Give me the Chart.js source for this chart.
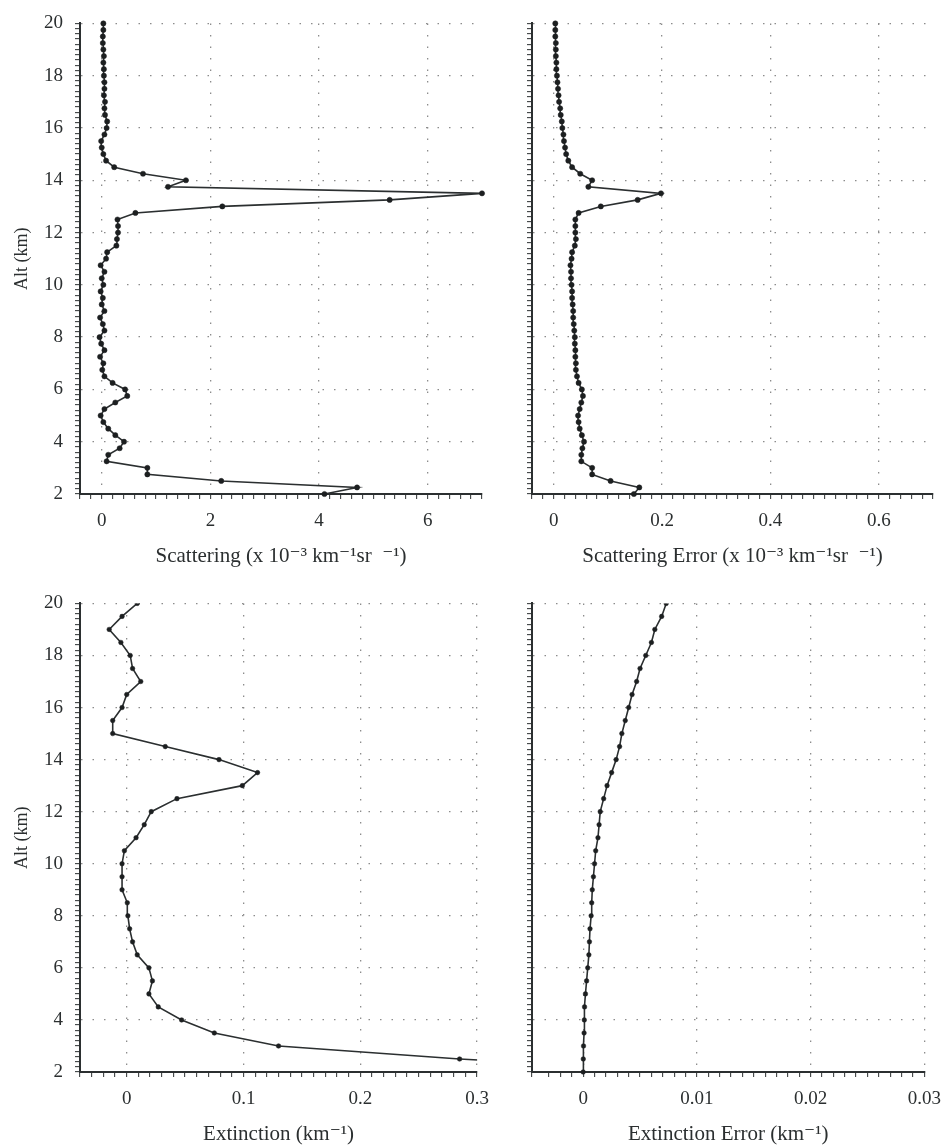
<!DOCTYPE html>
<html><head><meta charset="utf-8">
<script src="https://cdn.jsdelivr.net/npm/chart.js@4.4.1/dist/chart.umd.min.js"></script>
<style>
html,body{margin:0;padding:0;background:#fff;}
#wrap{position:relative;width:952px;height:1147px;overflow:hidden;background:#fff;}
canvas{position:absolute;}
</style></head><body>
<div id="wrap">
<canvas id="c1" width="500" height="580" style="left:0px;top:0px"></canvas>
<canvas id="c2" width="452" height="580" style="left:500px;top:0px"></canvas>
<canvas id="c3" width="500" height="567" style="left:0px;top:580px"></canvas>
<canvas id="c4" width="452" height="567" style="left:500px;top:580px"></canvas>
</div>
<script>
// ---- DATA ----
const altTop = [
  2, 2.25, 2.5, 2.75, 3, 3.25, 3.5, 3.75, 4, 4.25, 4.5, 4.75,
  5, 5.25, 5.5, 5.75, 6, 6.25, 6.5, 6.75, 7, 7.25, 7.5, 7.75,
  8, 8.25, 8.5, 8.75, 9, 9.25, 9.5, 9.75, 10, 10.25, 10.5, 10.75,
  11, 11.25, 11.5, 11.75, 12, 12.25, 12.5, 12.75, 13, 13.25, 13.5, 13.75,
  14, 14.25, 14.5, 14.75, 15, 15.25, 15.5, 15.75, 16, 16.25, 16.5, 16.75,
  17, 17.25, 17.5, 17.75, 18, 18.25, 18.5, 18.75, 19, 19.25, 19.5, 19.75, 20
];
const scattering = [
  4.1, 4.7, 2.2, 0.84,
  0.84, 0.09, 0.12, 0.33,
  0.41, 0.25, 0.12, 0.03,
  -0.02, 0.05, 0.25, 0.47,
  0.43, 0.2, 0.05, 0.01,
  0.03, -0.03, 0.05, -0.01,
  -0.04, 0.05, 0.02, -0.03,
  0.05, 0.0, 0.02, -0.02,
  0.03, 0.0, 0.05, -0.02,
  0.08, 0.1, 0.27, 0.28,
  0.3, 0.3, 0.29, 0.62,
  2.22, 5.3, 7.0, 1.22,
  1.55, 0.76, 0.23, 0.08,
  0.03, 0.0, -0.01, 0.05,
  0.09, 0.1, 0.06, 0.05,
  0.06, 0.04, 0.05, 0.05,
  0.04, 0.04, 0.03, 0.04,
  0.03, 0.02, 0.02, 0.03,
  0.03
];
const scatteringError = [
  0.148, 0.158, 0.105, 0.071,
  0.071, 0.051, 0.051, 0.053,
  0.056, 0.052, 0.048, 0.046,
  0.045, 0.048, 0.051, 0.054,
  0.052, 0.046, 0.043, 0.041,
  0.041, 0.040, 0.040, 0.039,
  0.039, 0.038, 0.037, 0.036,
  0.036, 0.035, 0.034, 0.034,
  0.033, 0.032, 0.032, 0.031,
  0.033, 0.034, 0.039, 0.041,
  0.040, 0.040, 0.040, 0.046,
  0.087, 0.155, 0.198, 0.064,
  0.071, 0.049, 0.034, 0.027,
  0.023, 0.021, 0.019, 0.018,
  0.016, 0.015, 0.013, 0.012,
  0.010, 0.009, 0.008, 0.007,
  0.006, 0.005, 0.005, 0.004,
  0.004, 0.004, 0.003, 0.003,
  0.003
];
const altBottom = [
  2, 2.5, 3, 3.5, 4, 4.5, 5, 5.5, 6, 6.5, 7, 7.5, 8, 8.5, 9, 9.5, 10, 10.5,
  11, 11.5, 12, 12.5, 13, 13.5, 14, 14.5, 15, 15.5, 16, 16.5, 17, 17.5, 18, 18.5,
  19, 19.5, 20
];
const extinction = [
  0.48, 0.285, 0.130, 0.075, 0.047, 0.027, 0.019, 0.022, 0.019, 0.009,
  0.005, 0.0025, 0.001, 0.0005, -0.004, -0.004, -0.004, -0.002,
  0.008, 0.015, 0.021, 0.043, 0.099, 0.112, 0.079, 0.033, -0.012, -0.012,
  -0.004, 0.0, 0.012, 0.005, 0.003, -0.005, -0.015, -0.004, 0.009
];
const extinctionError = [
  0.0, 0.00001, 0.00003, 0.00008, 0.0001, 0.00012, 0.0002, 0.0003, 0.0004, 0.0005,
  0.00055, 0.0006, 0.0007, 0.00075, 0.0008, 0.0009, 0.001, 0.0011,
  0.0013, 0.0014, 0.0015, 0.0018, 0.0021, 0.0025, 0.0029, 0.0032, 0.0034, 0.0037,
  0.0040, 0.0043, 0.0047, 0.0050, 0.0055, 0.0060, 0.0063, 0.0069, 0.0073
];
const altTickLabels = [2, 4, 6, 8, 10, 12, 14, 16, 18, 20];
const scatTickLabels = [0, 2, 4, 6];
const scatErrTickLabels = [0, 0.2, 0.4, 0.6];
const extTickLabels = [0, 0.1, 0.2, 0.3];
const extErrTickLabels = [0, 0.01, 0.02, 0.03];

// ---- STYLE / HELPERS ----
const FONT = "'Liberation Serif', 'DejaVu Serif', serif";
const INK = '#2b2f30';
const GRIDC = '#8c8c8c';
Chart.defaults.font.family = FONT;
Chart.defaults.color = INK;

function inList(v, list) {
  return list.some(t => Math.abs(t - v) < 1e-9 * Math.max(1, Math.abs(t)) + 1e-12);
}

function panel(id, cfg) {
  const pts = cfg.ys.map((a, i) => ({x: cfg.xs[i], y: a}));
  const majorX = cfg.xLabels, majorY = altTickLabels;
  new Chart(document.getElementById(id), {
    type: 'line',
    data: { datasets: [{
      data: pts,
      borderColor: INK,
      borderWidth: 1.6,
      pointRadius: cfg.pr,
      pointBackgroundColor: '#1c1f20',
      pointBorderColor: '#1c1f20',
      pointBorderWidth: 0.5,
      tension: 0,
      fill: false,
      clip: cfg.clip
    }]},
    options: {
      responsive: false,
      animation: false,
      devicePixelRatio: 1,
      layout: { padding: { top: cfg.padTop, right: cfg.padRight, left: 0, bottom: 0 } },
      plugins: { legend: { display: false }, tooltip: { enabled: false } },
      scales: {
        x: {
          type: 'linear',
          min: cfg.xMin, max: cfg.xMax,
          afterFit: s => { s.height = cfg.xH; },
          ticks: {
            stepSize: cfg.xMinor, autoSkip: false, maxRotation: 0, minRotation: 0,
            padding: cfg.tickPad, color: INK,
            font: { size: 19, family: FONT },
            callback: v => inList(v, majorX) ? String(Number(v.toFixed(4))) : ''
          },
          grid: {
            color: c => (c.tick && inList(c.tick.value, majorX)) ? GRIDC : 'rgba(0,0,0,0)',
            lineWidth: 1.3, tickLength: 5, tickColor: INK, tickWidth: 1
          },
          border: { display: true, color: INK, width: 2, dash: [1.5, 10] },
          title: {
            display: true, text: cfg.xTitle, color: INK,
            font: { size: 21, family: FONT },
            padding: { top: 2, bottom: cfg.titlePad }
          }
        },
        y: {
          type: 'linear',
          min: 2, max: 20,
          afterFit: s => { s.width = cfg.yW; },
          ticks: {
            stepSize: 0.2, autoSkip: false, padding: 12, color: INK,
            font: { size: 19, family: FONT },
            callback: v => (cfg.showY && inList(v, majorY)) ? String(Math.round(v)) : ''
          },
          grid: {
            color: c => (c.tick && inList(c.tick.value, majorY)) ? GRIDC : 'rgba(0,0,0,0)',
            lineWidth: 1.3, tickLength: 5, tickColor: INK, tickWidth: 1
          },
          border: { display: true, color: INK, width: 2, dash: [1.5, 10] },
          title: {
            display: cfg.showY, text: 'Alt (km)', color: INK,
            font: { size: 18, family: FONT },
            padding: { top: 11, bottom: 0 }
          }
        }
      }
    }
  });
}

panel('c1', { xs: scattering, ys: altTop, xMin: -0.4, xMax: 7, xMinor: 0.2, xLabels: scatTickLabels,
  xTitle: 'Scattering (x 10\u207B\u00B3 km\u207B\u00B9sr  \u207B\u00B9)', showY: true,
  padTop: 16, padRight: 18, yW: 80, xH: 86, tickPad: 11, titlePad: 11, pr: 2.6, clip: false });
panel('c2', { xs: scatteringError, ys: altTop, xMin: -0.04, xMax: 0.7, xMinor: 0.02, xLabels: scatErrTickLabels,
  xTitle: 'Scattering Error (x 10\u207B\u00B3 km\u207B\u00B9sr  \u207B\u00B9)', showY: false,
  padTop: 16, padRight: 19, yW: 32, xH: 86, tickPad: 11, titlePad: 11, pr: 2.6, clip: false });
panel('c3', { xs: extinction, ys: altBottom, xMin: -0.04, xMax: 0.3, xMinor: 0.01, xLabels: extTickLabels,
  xTitle: 'Extinction (km\u207B\u00B9)', showY: true,
  padTop: 18, padRight: 18, yW: 80, xH: 75, tickPad: 11, titlePad: 0, pr: 2.3,
  clip: { left: 8, top: 0, right: 0, bottom: 8 } });
panel('c4', { xs: extinctionError, ys: altBottom, xMin: -0.0045, xMax: 0.03, xMinor: 0.001, xLabels: extErrTickLabels,
  xTitle: 'Extinction Error (km\u207B\u00B9)', showY: false,
  padTop: 18, padRight: 19, yW: 32, xH: 75, tickPad: 11, titlePad: 0, pr: 2.3,
  clip: { left: 8, top: 0, right: 8, bottom: 8 } });
</script>
</body></html>
